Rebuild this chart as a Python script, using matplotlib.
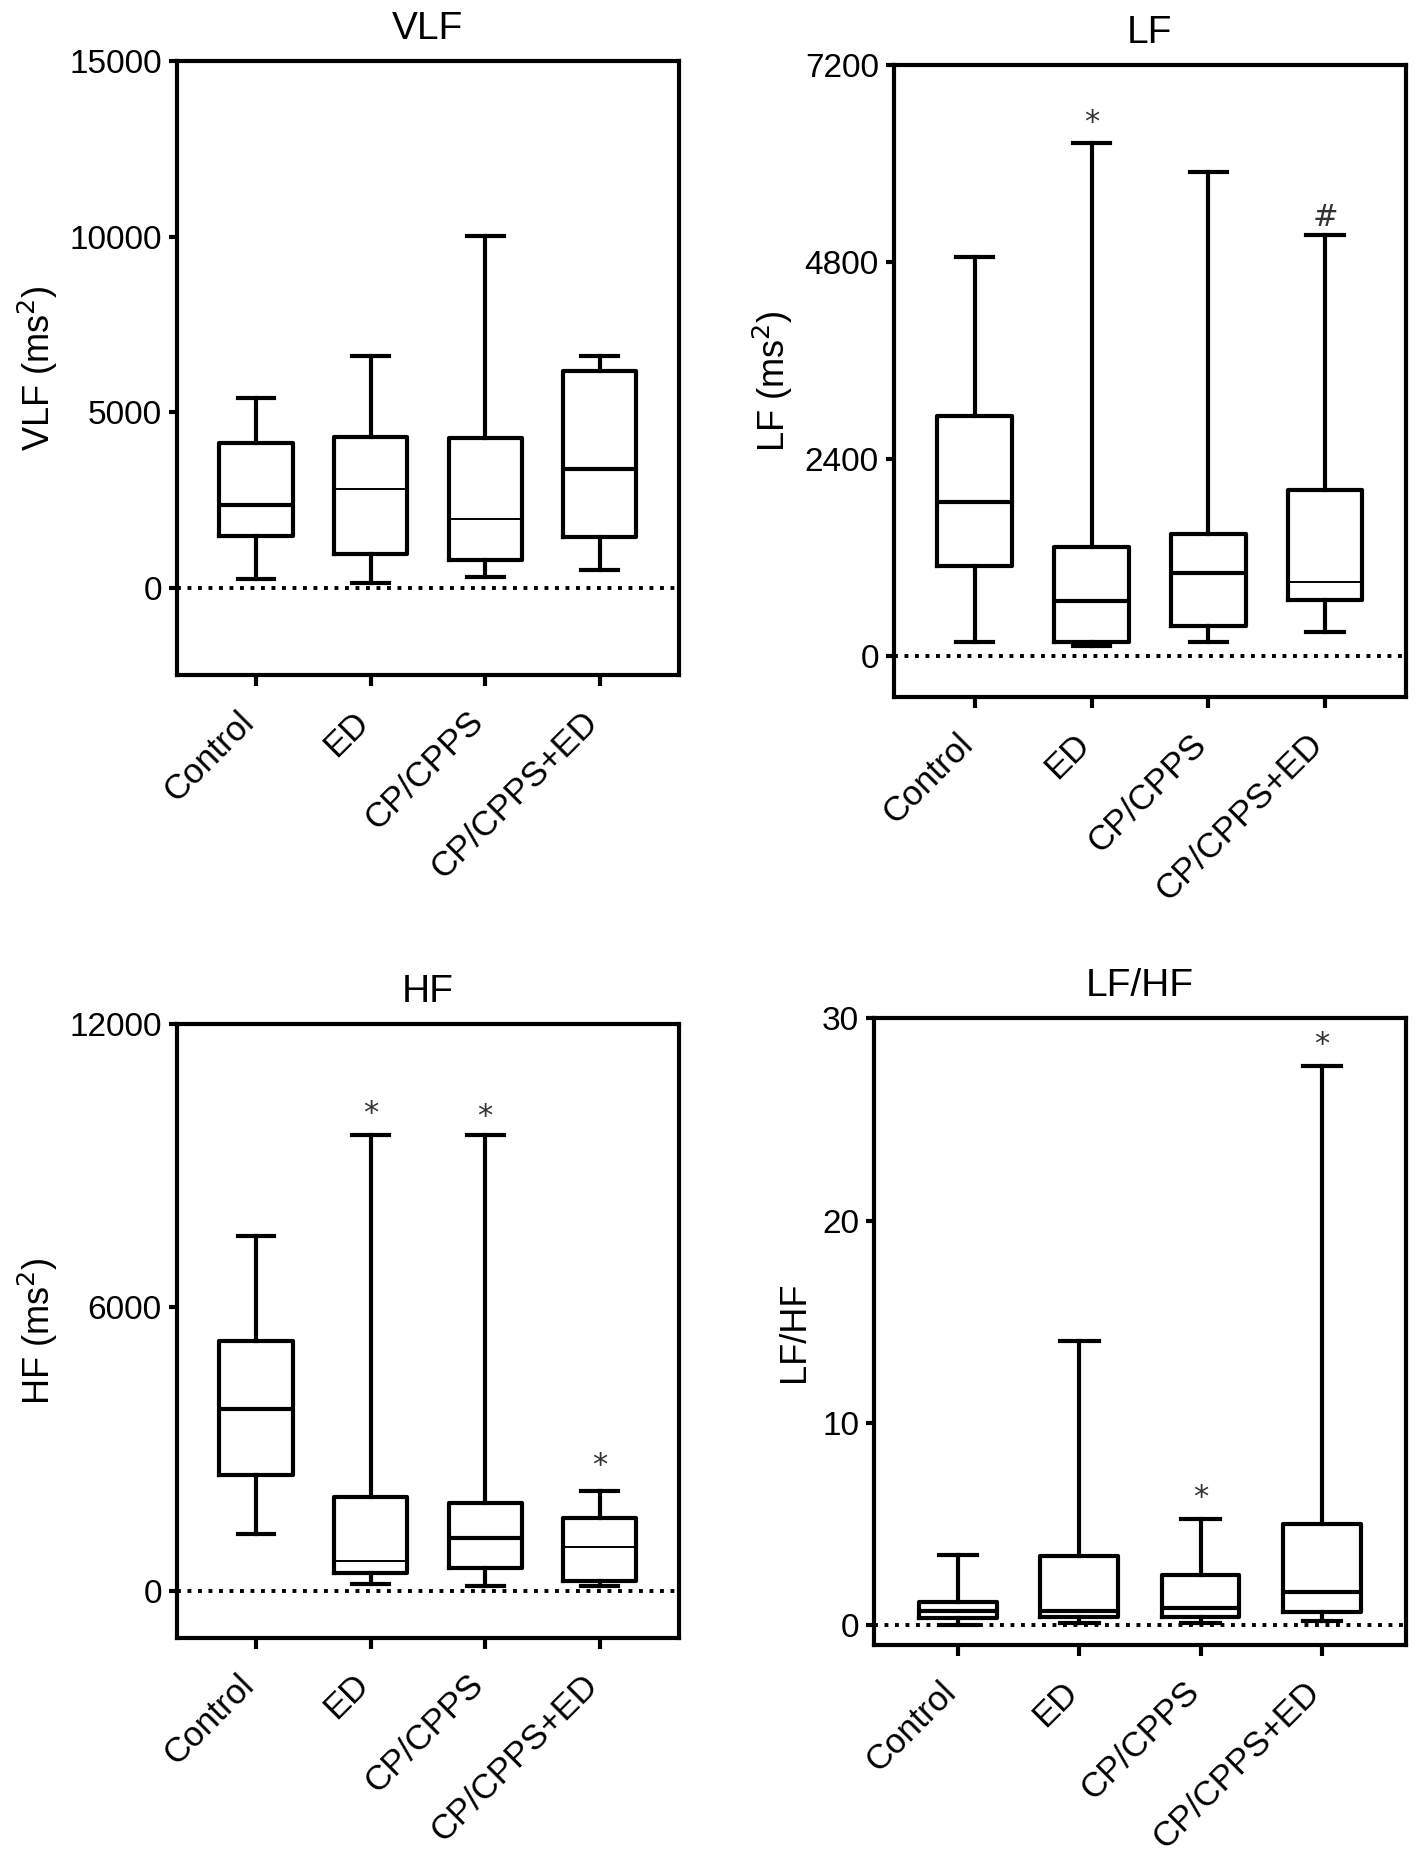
import matplotlib.pyplot as plt
import matplotlib as mpl
from matplotlib.transforms import ScaledTranslation

mpl.rcParams['font.family'] = ['Liberation Sans', 'DejaVu Sans']

groups = ['Control', 'ED', 'CP/CPPS', 'CP/CPPS+ED']

# five-number summaries: min, Q1, median, Q3, max
vlf_min = [250, 130, 290, 500]
vlf_q1 = [1460, 960, 790, 1430]
vlf_med = [2360, 2810, 1940, 3370]
vlf_q3 = [4120, 4290, 4260, 6180]
vlf_max = [5400, 6600, 10020, 6600]

lf_min = [170, 130, 170, 300]
lf_q1 = [1100, 180, 370, 690]
lf_med = [1880, 670, 1020, 910]
lf_q3 = [2930, 1330, 1490, 2020]
lf_max = [4860, 6250, 5900, 5130]

hf_min = [1200, 140, 110, 110]
hf_q1 = [2460, 370, 490, 210]
hf_med = [3840, 620, 1120, 930]
hf_q3 = [5280, 1980, 1860, 1540]
hf_max = [7520, 9640, 9640, 2120]

ratio_min = [0.03, 0.11, 0.13, 0.21]
ratio_q1 = [0.33, 0.41, 0.41, 0.64]
ratio_med = [0.69, 0.72, 0.85, 1.64]
ratio_q3 = [1.13, 3.42, 2.48, 4.99]
ratio_max = [3.48, 14.04, 5.25, 27.66]

# significance marks: (group index, y value, symbol)
lf_marks = [(1, 6500, '*'), (3, 5340, '#')]
hf_marks = [(1, 10100, '*'), (2, 10050, '*'), (3, 2650, '*')]
ratio_marks = [(2, 6.3, '*'), (3, 28.7, '*')]

panels = [
    dict(title='VLF', ylabel='VLF (ms$^2$)', ylim=(-2500, 15000), yticks=[0, 5000, 10000, 15000],
         data=(vlf_min, vlf_q1, vlf_med, vlf_q3, vlf_max), marks=[], thin=[1, 2],
         rect=[0.125, 0.636, 0.354, 0.331]),
    dict(title='LF', ylabel='LF (ms$^2$)', ylim=(-500, 7200), yticks=[0, 2400, 4800, 7200],
         data=(lf_min, lf_q1, lf_med, lf_q3, lf_max), marks=lf_marks, thin=[3],
         rect=[0.631, 0.624, 0.361, 0.341]),
    dict(title='HF', ylabel='HF (ms$^2$)', ylim=(-1000, 12000), yticks=[0, 6000, 12000],
         data=(hf_min, hf_q1, hf_med, hf_q3, hf_max), marks=hf_marks, thin=[1, 3],
         rect=[0.125, 0.117, 0.354, 0.331]),
    dict(title='LF/HF', ylabel='LF/HF', ylim=(-1, 30), yticks=[0, 10, 20, 30],
         data=(ratio_min, ratio_q1, ratio_med, ratio_q3, ratio_max), marks=ratio_marks, thin=[],
         rect=[0.617, 0.113, 0.375, 0.338]),
]

fig = plt.figure(figsize=(14.17, 18.55), dpi=100)

lw = 3.0
for p in panels:
    ax = fig.add_axes(p['rect'])
    lo, q1, med, q3, hi = p['data']
    stats = []
    for i, g in enumerate(groups):
        stats.append(dict(label=g, whislo=lo[i], q1=q1[i], med=med[i], q3=q3[i], whishi=hi[i], fliers=[]))
    pos = list(range(1, len(groups) + 1))
    bp = ax.bxp(stats, positions=pos, widths=0.64, showfliers=False,
                boxprops=dict(color='black', linewidth=lw),
                whiskerprops=dict(color='black', linewidth=lw),
                capprops=dict(color='black', linewidth=lw),
                medianprops=dict(color='black', linewidth=lw),
                capwidths=0.32)
    for i in p['thin']:
        bp['medians'][i].set_linewidth(1.4)

    ax.axhline(0, color='black', linestyle=(0, (1, 1.7)), linewidth=2.8, zorder=0)

    for gi, yv, sym in p['marks']:
        ax.text(gi + 1, yv, sym, ha='center', va='center', fontsize=22,
                color='#333333', family='DejaVu Sans')

    ax.set_xlim(0.31, 4.69)
    ax.set_ylim(*p['ylim'])
    ax.set_yticks(p['yticks'])
    ax.set_yticklabels([str(t) for t in p['yticks']])
    ax.set_xticks(pos)
    ax.set_xticklabels(groups, rotation=45, ha='right', va='center', rotation_mode='anchor')
    ax.tick_params(axis='y', direction='out', length=6, width=lw, labelsize=24, pad=5)
    ax.tick_params(axis='x', direction='out', length=8, width=lw, labelsize=25, pad=22)
    shift = ScaledTranslation(-5 / 72, 0, fig.dpi_scale_trans)
    for lab in ax.get_xticklabels():
        lab.set_transform(lab.get_transform() + shift)
    for s in ax.spines.values():
        s.set_linewidth(3.0)
    ax.set_title(p['title'], fontsize=28, pad=16)
    ax.set_ylabel(p['ylabel'], fontsize=26, labelpad=7)

fig.savefig('out.png', dpi=100, facecolor='white')
